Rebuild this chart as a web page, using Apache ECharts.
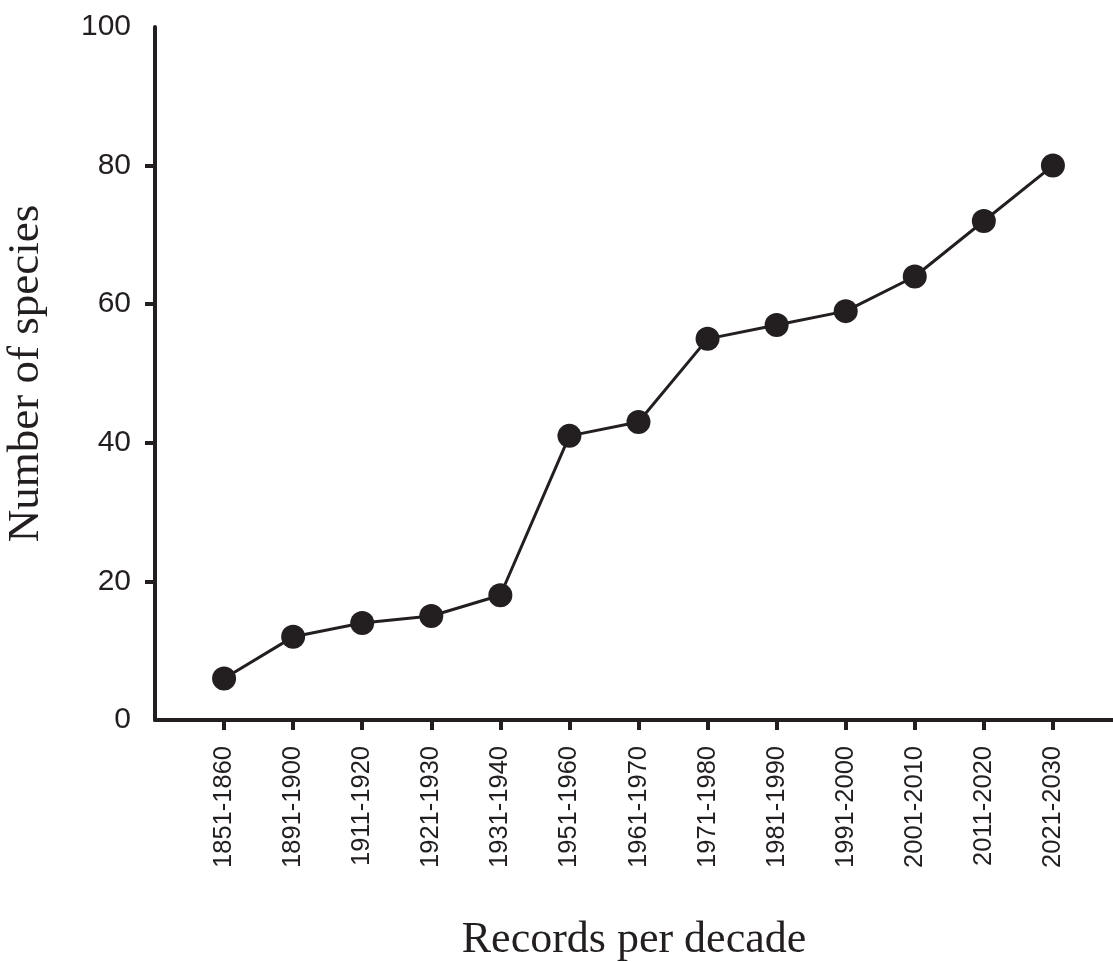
<!DOCTYPE html>
<html><head><meta charset="utf-8">
<script src="https://cdn.jsdelivr.net/npm/echarts@6/dist/echarts.min.js"></script>
<style>html,body{margin:0;padding:0;background:#fff}#c{width:1113px;height:962px}</style>
</head><body><div id="c"></div>
<script>
const categories = ["1851-1860","1891-1900","1911-1920","1921-1930","1931-1940","1951-1960","1961-1970","1971-1980","1981-1990","1991-2000","2001-2010","2011-2020","2021-2030"];
const speciesCounts = [6,12,14,15,18,41,43,55,57,59,64,72,80];
const yTicks = [0,20,40,60,80,100];

const ink = '#231f20';
const idx = categories.map((c,i)=>i);
const chart = echarts.init(document.getElementById('c'));
chart.setOption({
  backgroundColor:'#fff',
  animation:false,
  grid:{left:155, right:0, top:27, bottom:242, containLabel:false, outerBoundsMode:'none'},
  xAxis:{
    type:'value', min:-1, max:12.87, interval:1,
    name:'Records per decade', nameLocation:'middle', nameGap:198,
    nameTextStyle:{fontFamily:'Liberation Serif', fontSize:44, color:ink},
    axisLine:{show:true, onZero:false, lineStyle:{color:ink, width:4}},
    axisTick:{show:true, customValues:idx, length:10, lineStyle:{color:ink, width:4}},
    axisLabel:{show:true, customValues:idx, rotate:90, margin:26,
      fontFamily:'Liberation Sans', fontSize:25.5, color:ink,
      formatter:v=>categories[Math.round(v)] ?? ''},
    splitLine:{show:false}
  },
  yAxis:{
    type:'value', min:0, max:100, interval:20,
    name:'Number of species', nameLocation:'middle', nameGap:106, nameRotate:90,
    nameTextStyle:{fontFamily:'Liberation Serif', fontSize:45, color:ink},
    axisLine:{show:true, onZero:false, lineStyle:{color:ink, width:4}},
    axisTick:{show:true, customValues:[20,40,60,80], length:10, lineStyle:{color:ink, width:4}},
    axisLabel:{show:true, customValues:yTicks, margin:24, fontFamily:'Liberation Sans', fontSize:30, color:ink},
    splitLine:{show:false}
  },
  series:[{
    type:'line',
    data:speciesCounts.map((v,i)=>[i,v]),
    symbol:'circle', symbolSize:24,
    lineStyle:{color:ink, width:3},
    itemStyle:{color:ink},
    z:3
  }]
});
</script></body></html>
